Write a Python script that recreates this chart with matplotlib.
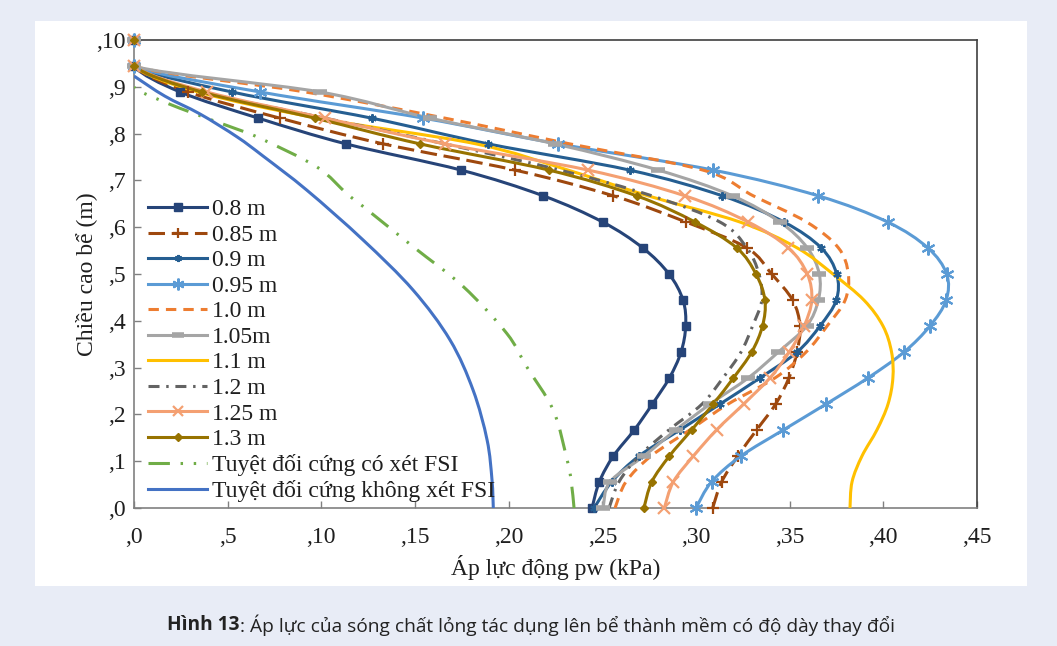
import matplotlib
matplotlib.use('Agg')
import matplotlib.pyplot as plt
from matplotlib.path import Path
from matplotlib.patches import PathPatch, Rectangle
from matplotlib.lines import Line2D
from matplotlib import font_manager as fm
import numpy as np

# ---------------- data ----------------
heights = [0.0, 0.056, 0.111, 0.167, 0.222, 0.278, 0.333, 0.389, 0.444, 0.5,
           0.556, 0.611, 0.667, 0.722, 0.778, 0.833, 0.889, 0.944, 1.0]

p_080 = [0.2445, 0.2484, 0.2559, 0.2671, 0.2767, 0.2858, 0.2920, 0.2945, 0.2931, 0.2856,
         0.2715, 0.2502, 0.2185, 0.1746, 0.1132, 0.0664, 0.0246, 0.0, 0.0]
p_085 = [0.3089, 0.3137, 0.3223, 0.3324, 0.3425, 0.3496, 0.3539, 0.3555, 0.3516, 0.3404,
         0.3271, 0.2947, 0.2559, 0.2034, 0.1331, 0.0779, 0.0290, 0.0, 0.0]
p_090 = [0.2456, 0.2550, 0.2696, 0.2915, 0.3128, 0.3342, 0.3539, 0.3662, 0.3749, 0.3751,
         0.3668, 0.3470, 0.3141, 0.2646, 0.1891, 0.1269, 0.0522, 0.0, 0.0]
p_095 = [0.3000, 0.3083, 0.3240, 0.3467, 0.3694, 0.3918, 0.4110, 0.4249, 0.4335, 0.4338,
         0.4237, 0.4023, 0.3653, 0.3092, 0.2265, 0.1545, 0.0673, 0.0, 0.0]
p_100 = [0.2568, 0.2626, 0.2760, 0.2968, 0.3171, 0.3422, 0.3587, 0.3700, 0.3796, 0.3813,
         0.3760, 0.3591, 0.3306, 0.3037, 0.2327, 0.1660, 0.0913, 0.0, 0.0]
p_105 = [0.2504, 0.2541, 0.2722, 0.2893, 0.3075, 0.3279, 0.3439, 0.3591, 0.3653, 0.3658,
         0.3594, 0.3448, 0.3195, 0.2799, 0.2247, 0.1580, 0.0993, 0.0, 0.0]
p_110 = [0.3822, 0.3833, 0.3886, 0.3966, 0.4025, 0.4051, 0.4044, 0.3998, 0.3897, 0.3731,
         0.3539, 0.3235, 0.2744, 0.2317, 0.1826, 0.0982, 0.0342, 0.0, 0.0]
p_120 = [0.2536, 0.2589, 0.2696, 0.2856, 0.3032, 0.3144, 0.3240, 0.3302, 0.3351, 0.3336,
         0.3271, 0.3128, 0.2765, 0.2274, 0.1660, 0.1020, 0.0368, 0.0, 0.0]
p_125 = [0.2831, 0.2879, 0.2986, 0.3110, 0.3254, 0.3395, 0.3497, 0.3577, 0.3618, 0.3594,
         0.3493, 0.3279, 0.2941, 0.2425, 0.1660, 0.1020, 0.0388, 0.0, 0.0]
p_130 = [0.2722, 0.2764, 0.2858, 0.2977, 0.3092, 0.3200, 0.3297, 0.3355, 0.3368, 0.3320,
         0.3217, 0.2995, 0.2683, 0.2215, 0.1527, 0.0966, 0.0361, 0.0, 0.0]

rigid_fsi_h = [0.0, 0.060, 0.106, 0.209, 0.302, 0.373, 0.473, 0.558, 0.644, 0.672,
               0.729, 0.790, 0.815, 0.854, 0.890, 0.900]
rigid_fsi_p = [0.2349, 0.2333, 0.2310, 0.2238, 0.2096, 0.1990, 0.1758, 0.1491, 0.1224, 0.1135,
               0.0975, 0.0673, 0.0512, 0.0246, 0.0032, 0.0]
rigid_h = [0.0, 0.060, 0.145, 0.252, 0.359, 0.466, 0.573, 0.679, 0.752, 0.793,
           0.842, 0.880, 0.923]
rigid_p = [0.1918, 0.1911, 0.1885, 0.1810, 0.1687, 0.1489, 0.1222, 0.0923, 0.0689, 0.0550,
           0.0352, 0.0165, 0.0]

labels = ['0.8 m', '0.85 m', '0.9 m', '0.95 m', '1.0 m', '1.05m', '1.1 m', '1.2 m',
          '1.25 m', '1.3 m', 'Tuyệt đối cứng có xét FSI', 'Tuyệt đối cứng không xét FSI']

x_ticks = [0.0, 0.05, 0.10, 0.15, 0.20, 0.25, 0.30, 0.35, 0.40, 0.45]
x_tick_labels = [',0', ',5', ',10', ',15', ',20', ',25', ',30', ',35', ',40', ',45']
y_ticks = [0.0, 0.1, 0.2, 0.3, 0.4, 0.5, 0.6, 0.7, 0.8, 0.9, 1.0]
y_tick_labels = [',0', ',1', ',2', ',3', ',4', ',5', ',6', ',7', ',8', ',9', ',10']

x_label = 'Áp lực động pw (kPa)'
y_label = 'Chiều cao bể (m)'
caption_bold = 'Hình 13'
caption_rest = ': Áp lực của sóng chất lỏng tác dụng lên bể thành mềm có độ dày thay đổi'

# ---------------- styles ----------------
LW = 2.2
series = [
    (p_080, heights, dict(color='#264478', ls='-', marker='s', ms=6, mew=1)),
    (p_085, heights, dict(color='#9E480E', ls=(0, (5.4, 2.2)), marker='+', ms=9, mew=1.6)),
    (p_090, heights, dict(color='#255E91', ls='-', marker=(6, 2, 0), ms=6, mew=1.5)),
    (p_095, heights, dict(color='#5B9BD5', ls='-', marker=(6, 2, 0), ms=10, mew=1.5)),
    (p_100, heights, dict(color='#ED7D31', ls=(0, (3.4, 2.3)), marker=None, ms=0, mew=0)),
    (p_105, heights, dict(color='#A5A5A5', ls='-', marker='_', ms=10, mew=4)),
    (p_110, heights, dict(color='#FFC000', ls='-', marker=None, ms=0, mew=0)),
    (p_120, heights, dict(color='#636363', ls=(0, (3.6, 2.2, 0.8, 2.2)), marker=None, ms=0, mew=0)),
    (p_125, heights, dict(color='#F4A072', ls='-', marker='x', ms=8, mew=1.6)),
    (p_130, heights, dict(color='#977300', ls='-', marker='D', ms=4.5, mew=1)),
    (rigid_fsi_p, rigid_fsi_h, dict(color='#70AD47', ls=(0, (7, 3.5, 0.8, 3.5, 0.8, 3.5)), marker=None, ms=0, mew=0)),
    (rigid_p, rigid_h, dict(color='#4472C4', ls='-', marker=None, ms=0, mew=0)),
]


def smooth_path(xs, ys):
    pts = np.column_stack([xs, ys]).astype(float)
    n = len(pts)
    verts = [pts[0]]
    codes = [Path.MOVETO]
    for i in range(n - 1):
        p0 = pts[i - 1] if i > 0 else pts[i]
        p1 = pts[i]
        p2 = pts[i + 1]
        p3 = pts[i + 2] if i + 2 < n else pts[i + 1]
        verts += [p1 + (p2 - p0) / 6.0, p2 - (p3 - p1) / 6.0, p2]
        codes += [Path.CURVE4] * 3
    return Path(verts, codes)


def _w(v):
    if isinstance(v, str):
        return fm.weight_dict.get(v, 400)
    return v


def pick_bold_family(cands):
    for fam in cands:
        if any(f.name == fam and _w(f.weight) >= 600 for f in fm.fontManager.ttflist):
            return fam
    return 'DejaVu Sans'


SERIF = ['Liberation Serif', 'DejaVu Serif']
TXT = '#1f1f1f'
FS = 17

W, H = 1057, 646
fig = plt.figure(figsize=(W / 100, H / 100), dpi=100)
fig.patch.set_facecolor('#E8ECF6')
fig.add_artist(Rectangle((35 / W, 1 - 586 / H), (1027 - 35) / W, (586 - 21) / H,
                         transform=fig.transFigure, facecolor='white', edgecolor='none', zorder=-5))

ax = fig.add_axes([134 / W, 1 - 508 / H, (977 - 134) / W, (508 - 40) / H])
ax.set_xlim(0, 0.45)
ax.set_ylim(0, 1.0)

handles = []
for xs, ys, st in series:
    patch = PathPatch(smooth_path(xs, ys), fill=False, edgecolor=st['color'], lw=LW,
                      linestyle=st['ls'], capstyle='butt', joinstyle='round', zorder=3)
    ax.add_patch(patch)
    if st['marker'] is not None:
        ax.plot(xs, ys, linestyle='none', marker=st['marker'], ms=st['ms'], mew=st['mew'],
                color=st['color'], mec=st['color'], mfc=st['color'], zorder=4, clip_on=False)
    handles.append(Line2D([], [], color=st['color'], lw=LW, linestyle=st['ls'],
                          marker=st['marker'] if st['marker'] else None,
                          ms=st['ms'] * 0.85, mew=st['mew'], mfc=st['color'], mec=st['color']))

ax.set_xticks(x_ticks)
ax.set_xticklabels(x_tick_labels)
ax.set_yticks(y_ticks)
ax.set_yticklabels(y_tick_labels)
ax.tick_params(axis='both', direction='in', length=5, width=1, color='#808080',
               labelsize=FS, labelcolor=TXT)
ax.tick_params(axis='x', pad=14)
ax.tick_params(axis='y', pad=6)
for lab in ax.get_xticklabels() + ax.get_yticklabels():
    lab.set_family(SERIF)

for side in ['left', 'bottom']:
    ax.spines[side].set_color('#808080')
    ax.spines[side].set_linewidth(1.2)
for side in ['top', 'right']:
    ax.spines[side].set_color('#404040')
    ax.spines[side].set_linewidth(1.2)

ax.text(0.5, (508 - 567) / 468, x_label, transform=ax.transAxes, ha='center', va='center',
        fontsize=FS, family=SERIF, color=TXT)
ax.text((86 - 134) / 843, 0.5, y_label, transform=ax.transAxes, ha='center', va='center',
        rotation=90, fontsize=FS, family=SERIF, color=TXT)

FSPX = FS * 100 / 72.0
bp = 0.2
leg = ax.legend(handles, labels, loc='upper left',
                bbox_to_anchor=((148 - 134 - bp * FSPX) / 843, (508 - 194) / 468),
                frameon=False, prop={'family': SERIF, 'size': FS}, handlelength=2.5,
                handletextpad=0.22, labelspacing=0.17, borderaxespad=0.0, borderpad=bp,
                numpoints=1)
for t in leg.get_texts():
    t.set_color(TXT)

# caption
cap_family = pick_bold_family(['Noto Sans', 'Open Sans', 'Roboto', 'Lato', 'Inter',
                               'Liberation Sans', 'DejaVu Sans'])
CAP_FONT = [cap_family, 'DejaVu Sans']
cap_fs = 12.5
t1 = fig.text(0, 1 - 625 / H, caption_bold, fontsize=cap_fs, fontweight='bold', family=CAP_FONT,
              color='#222222', va='center', ha='left')
t2 = fig.text(0, 1 - 625 / H, caption_rest, fontsize=cap_fs, family=CAP_FONT,
              color='#222222', va='center', ha='left')
r = fig.canvas.get_renderer()
w1 = t1.get_window_extent(r).width
w2 = t2.get_window_extent(r).width
target = 897 - 166
scale = target / (w1 + w2)
t1.set_fontsize(cap_fs * scale)
t2.set_fontsize(cap_fs * scale)
w1 = t1.get_window_extent(r).width
w2 = t2.get_window_extent(r).width
x0 = 531 - (w1 + w2) / 2
t1.set_x(x0 / W)
t2.set_x((x0 + w1) / W)

fig.savefig('out.png', dpi=100, facecolor=fig.get_facecolor())
